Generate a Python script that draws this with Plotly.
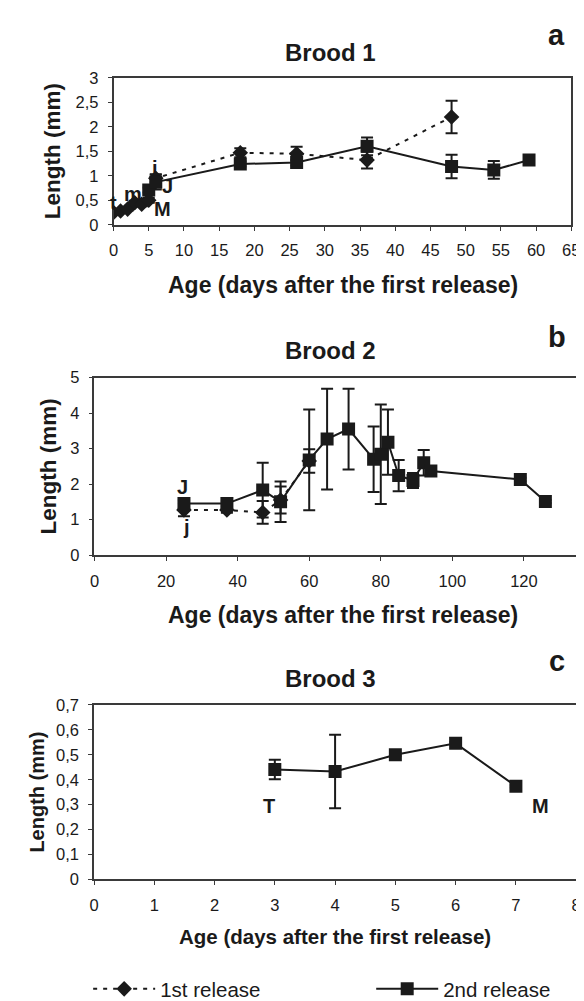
import plotly.graph_objects as go

W, H = 584, 1001

# ---------------- data ----------------
# Brood 1
b1_r1_x = [0, 1, 2, 3, 4, 5, 6, 18, 26, 36, 48]
b1_r1_y = [0.25, 0.28, 0.32, 0.45, 0.42, 0.50, 0.95, 1.47, 1.45, 1.32, 2.20]
b1_r1_e = [0.03, 0.03, 0.03, 0.04, 0.04, 0.05, 0.08, 0.09, 0.14, 0.17, 0.33]
b1_r2_x = [5, 6, 18, 26, 36, 48, 54, 59]
b1_r2_y = [0.71, 0.87, 1.24, 1.27, 1.60, 1.19, 1.12, 1.32]
b1_r2_e = [0.05, 0.15, 0.05, 0.06, 0.18, 0.24, 0.18, 0.04]
b1_labels = ["t", "m", "i", "J", "M"]
b1_label_x = [0.0, 2.7, 5.9, 7.6, 6.9]
b1_label_y = [0.45, 0.62, 1.16, 0.80, 0.33]

# Brood 2
b2_r1_x = [25, 37, 47, 52, 60]
b2_r1_y = [1.27, 1.27, 1.20, 1.55, 2.65]
b2_r1_e = [0.18, 0.08, 0.32, 0.38, 0.33]
b2_r2_x = [25, 37, 47, 52, 60, 65, 71, 78, 80, 82, 85, 89, 92, 94, 119, 126]
b2_r2_y = [1.45, 1.45, 1.83, 1.50, 2.68, 3.27, 3.55, 2.70, 2.84, 3.18, 2.24, 2.10, 2.60, 2.37, 2.13, 1.51]
b2_r2_e = [0.10, 0.06, 0.77, 0.57, 1.42, 1.42, 1.14, 0.92, 1.40, 0.92, 0.44, 0.21, 0.36, 0.08, 0.05, 0.04]
b2_labels = ["J", "j"]
b2_label_x = [24.6, 25.6]
b2_label_y = [1.93, 0.78]

# Brood 3
b3_r2_x = [3, 4, 5, 6, 7]
b3_r2_y = [0.441, 0.433, 0.500, 0.546, 0.374]
b3_r2_e = [0.039, 0.147, 0.005, 0.005, 0.005]
b3_labels = ["T", "M"]
b3_label_x = [2.9, 7.4]
b3_label_y = [0.295, 0.295]

panel_letters = ["a", "b", "c"]
panel_titles = ["Brood 1", "Brood 2", "Brood 3"]
x_title = "Age (days after the first release)"
y_title = "Length (mm)"
series_names = ["1st release", "2nd release"]

FONT = "Liberation Sans, Arial, sans-serif"
INK = "#1a1a1a"


def px_x(p):
    return p / W


def px_y(p):
    return (H - p) / H


fig = go.Figure()


def add_series(x, y, e, xa, ya, kind, show):
    if kind == 1:
        line = dict(color=INK, width=2, dash="4px,6px")
        marker = dict(symbol="diamond", size=12, color=INK)
    else:
        line = dict(color=INK, width=2)
        marker = dict(symbol="square", size=13, color=INK)
    fig.add_trace(go.Scatter(
        x=x, y=y, mode="lines+markers", xaxis=xa, yaxis=ya,
        line=line, marker=marker,
        error_y=dict(type="data", array=e, visible=True, color=INK, thickness=2, width=6),
        name=series_names[kind - 1], legendgroup=str(kind), showlegend=show,
        legend="legend" if kind == 1 else "legend2",
    ))


add_series(b1_r1_x, b1_r1_y, b1_r1_e, "x", "y", 1, True)
add_series(b1_r2_x, b1_r2_y, b1_r2_e, "x", "y", 2, True)
add_series(b2_r1_x, b2_r1_y, b2_r1_e, "x2", "y2", 1, False)
add_series(b2_r2_x, b2_r2_y, b2_r2_e, "x2", "y2", 2, False)
add_series(b3_r2_x, b3_r2_y, b3_r2_e, "x3", "y3", 2, False)

# panel geometry in pixels: (left, right, top, bottom)
geo = [(103, 572, 62, 212), (83.5, 577, 368, 549), (83, 577, 702, 880)]
xranges = [[0, 65], [0, 134.6], [0, 8]]
yranges = [[0, 3], [0, 5], [0, 0.7]]
xdt = [5, 20, 1]
ydt = [0.5, 1, 0.1]
tickfs = [16.5, 16.5, 16.5]

axis_common = dict(
    showgrid=False, zeroline=False, showline=True, linecolor="#3a3a3a", linewidth=1.6,
    mirror=True, ticks="outside", ticklen=4, tickcolor="#3a3a3a", tickwidth=1,
)

for i in range(3):
    l, r, t, b = geo[i]
    sx = "" if i == 0 else str(i + 1)
    fig.update_layout(**{
        "xaxis" + sx: dict(axis_common, domain=[px_x(l), px_x(r)], range=xranges[i],
                           dtick=xdt[i], tick0=0, anchor="y" + sx, ticklabelstandoff=6,
                           tickfont=dict(family=FONT, size=tickfs[i], color=INK)),
        "yaxis" + sx: dict(axis_common, domain=[px_y(b), px_y(t)], range=yranges[i],
                           dtick=ydt[i], tick0=0, anchor="x" + sx, ticklabelstandoff=6,
                           tickfont=dict(family=FONT, size=tickfs[i], color=INK)),
    })

ann = []
# titles, letters, axis titles
title_y = [36, 340, 675]
letter_y = [18, 327, 657]
xt_y = [273, 610, 938]
yt_x = [40, 36, 25]
xt_fs = [23, 23, 20.5]
yt_fs = [22.5, 22.5, 20]
for i in range(3):
    l, r, t, b = geo[i]
    ann.append(dict(text="<b>%s</b>" % panel_titles[i], x=px_x(325), y=px_y(title_y[i]),
                    xref="paper", yref="paper", showarrow=False,
                    font=dict(family=FONT, size=24, color=INK), xanchor="center", yanchor="middle"))
    ann.append(dict(text="<b>%s</b>" % panel_letters[i], x=px_x(557), y=px_y(letter_y[i]),
                    xref="paper", yref="paper", showarrow=False,
                    font=dict(family=FONT, size=29, color=INK), xanchor="center", yanchor="middle"))
    ann.append(dict(text="<b>%s</b>" % x_title, x=px_x(338 if i < 2 else 330), y=px_y(xt_y[i]),
                    xref="paper", yref="paper", showarrow=False,
                    font=dict(family=FONT, size=xt_fs[i], color=INK), xanchor="center", yanchor="middle"))
    ann.append(dict(text="<b>%s</b>" % y_title, x=px_x(yt_x[i]), y=px_y((t + b) / 2),
                    xref="paper", yref="paper", showarrow=False, textangle=-90,
                    font=dict(family=FONT, size=yt_fs[i], color=INK), xanchor="center", yanchor="middle"))

for labs, lx, ly, xr, yr in [(b1_labels, b1_label_x, b1_label_y, "x", "y"),
                              (b2_labels, b2_label_x, b2_label_y, "x2", "y2"),
                              (b3_labels, b3_label_x, b3_label_y, "x3", "y3")]:
    for s, xv, yv in zip(labs, lx, ly):
        ann.append(dict(text="<b>%s</b>" % s, x=xv, y=yv, xref=xr, yref=yr, showarrow=False,
                        font=dict(family=FONT, size=20, color=INK), xanchor="center", yanchor="middle"))

leg_common = dict(orientation="h", yanchor="middle", xanchor="left", itemwidth=62,
                  font=dict(family=FONT, size=20.5, color=INK), bgcolor="rgba(0,0,0,0)",
                  itemclick=False, itemdoubleclick=False)
fig.update_layout(
    width=W, height=H, margin=dict(l=0, r=0, t=0, b=0),
    paper_bgcolor="white", plot_bgcolor="white",
    separators=", ",
    annotations=ann,
    showlegend=True,
    legend=dict(leg_common, x=px_x(77), y=px_y(992)),
    legend2=dict(leg_common, x=px_x(367), y=px_y(992)),
)

fig.write_html("out.html")
